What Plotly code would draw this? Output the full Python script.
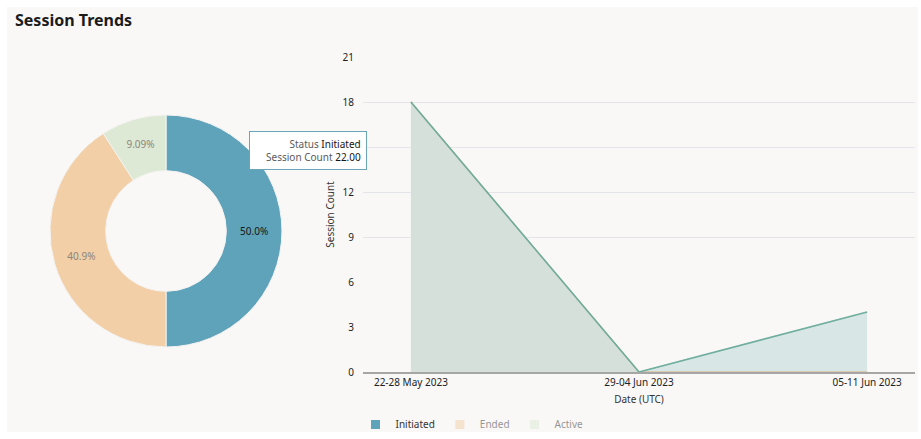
import plotly.graph_objects as go

# Session data
statuses = ["Initiated", "Ended", "Active"]
status_totals = [22, 18, 4]
status_colors = ["#5fa3bb", "#f2cfa6", "#dde9d4"]

weeks = ["22-28 May 2023", "29-04 Jun 2023", "05-11 Jun 2023"]
initiated_weekly = [18, 0, 4]
ended_weekly = [18, 0, 0]
active_weekly = [0, 0, 4]

y_ticks = [0, 3, 6, 9, 12, 15, 18, 21]
grid_ticks = [9, 12, 15, 18]

W, H = 921, 439
FONT = "Noto Sans"


def px(x):
    return x / W


def py(y):
    return 1 - y / H


fig = go.Figure()

# Donut of status totals
fig.add_trace(go.Pie(
    labels=statuses,
    values=status_totals,
    hole=0.52,
    sort=False,
    direction="clockwise",
    rotation=0,
    marker=dict(colors=status_colors, line=dict(color="#f4f3f1", width=1)),
    texttemplate="%{percent:.3p}",
    textposition="inside",
    insidetextorientation="horizontal",
    insidetextfont=dict(family=FONT, size=10, color=["#161616", "#8b8680", "#8b8680"]),
    domain=dict(x=[px(50), px(282)], y=[py(347), py(115)]),
    showlegend=False,
    hoverinfo="skip",
))

# Weekly area series
fig.add_trace(go.Scatter(
    x=weeks, y=active_weekly, mode="lines", fill="tozeroy",
    fillcolor="#d8e6e5", line=dict(color="#d5e5cc", width=1),
    showlegend=False, hoverinfo="skip", xaxis="x", yaxis="y",
))
fig.add_trace(go.Scatter(
    x=weeks, y=ended_weekly, mode="lines", fill="tozeroy",
    fillcolor="#d6e0db", line=dict(color="#dcae7c", width=1.2),
    showlegend=False, hoverinfo="skip", xaxis="x", yaxis="y",
))
fig.add_trace(go.Scatter(
    x=weeks, y=initiated_weekly, mode="lines",
    line=dict(color="#6fae9f", width=1.6),
    showlegend=False, hoverinfo="skip", xaxis="x", yaxis="y",
))

# Legend entries (Ended and Active are toggled off)
for name, color, vis in zip(statuses, status_colors, [True, "legendonly", "legendonly"]):
    fig.add_trace(go.Scatter(
        x=[None], y=[None], mode="markers", name=name, visible=vis,
        marker=dict(symbol="square", size=9, color=color),
        xaxis="x", yaxis="y",
    ))

# Empty trace to activate the grid axis
fig.add_trace(go.Scatter(x=[None], y=[None], xaxis="x", yaxis="y2",
                         showlegend=False, hoverinfo="skip"))

plot_x = [px(363), px(915)]
plot_y = [py(372), py(57)]

fig.update_layout(
    width=W, height=H,
    margin=dict(l=0, r=0, t=0, b=0, autoexpand=False),
    paper_bgcolor="white",
    plot_bgcolor="rgba(0,0,0,0)",
    font=dict(family=FONT, size=10, color="#333333"),
    hovermode=False,
    shapes=[dict(type="rect", xref="paper", yref="paper",
                 x0=px(7), x1=px(918), y0=py(432), y1=py(7),
                 fillcolor="#f9f8f7", line=dict(width=0), layer="below")],
    xaxis=dict(
        domain=plot_x, type="category", range=[-0.21, 2.21],
        showgrid=False, zeroline=False,
        showline=True, linecolor="#a6a6a6", linewidth=1.5,
        layer="below traces",
        tickfont=dict(family=FONT, size=10, color="#222222"),
        ticks="", ticklen=0,
        title=dict(text="Date (UTC)", font=dict(family=FONT, size=10, color="#333333"), standoff=8),
        anchor="y",
    ),
    yaxis=dict(
        domain=plot_y, range=[0, 21], tickvals=y_ticks,
        showgrid=False, zeroline=False, showline=False,
        tickfont=dict(family=FONT, size=10, color="#222222"),
        ticklabelstandoff=8,
        title=dict(text="Session Count", font=dict(family=FONT, size=10, color="#333333"), standoff=6),
        anchor="x",
    ),
    yaxis2=dict(
        domain=plot_y, range=[0, 21], tickvals=grid_ticks,
        overlaying="y", showticklabels=False, showgrid=True,
        gridcolor="#e3e5ea", gridwidth=1, zeroline=False, showline=False,
        layer="below traces", anchor="x",
    ),
    legend=dict(
        orientation="h", x=px(472), y=0, xanchor="center", yanchor="bottom",
        font=dict(family=FONT, size=10, color="#333333"),
        itemwidth=30,
        bgcolor="rgba(0,0,0,0)", tracegroupgap=0,
        itemclick=False, itemdoubleclick=False,
    ),
)

# Title
fig.add_annotation(
    text="<b>Session Trends</b>", xref="paper", yref="paper",
    x=px(13), y=py(20), xanchor="left", yanchor="middle",
    showarrow=False, font=dict(family=FONT, size=16, color="#1b1b1b"),
)

# Tooltip for the Initiated slice
tip_value = status_totals[statuses.index("Initiated")]
fig.add_annotation(
    text=(f"<span style='color:#5a5a5a'>Status</span> <span style='color:#161616'>{statuses[0]}</span><br>"
          f"<span style='color:#5a5a5a'>Session Count</span> <span style='color:#161616'>{tip_value:.2f}</span>"),
    xref="paper", yref="paper", x=px(249), y=py(131),
    xanchor="left", yanchor="top", align="right", showarrow=False,
    bgcolor="white", bordercolor="#6aa6b8", borderwidth=1, borderpad=5,
    width=106,
    font=dict(family=FONT, size=10, color="#333333"),
)

fig.write_html("out.html")
